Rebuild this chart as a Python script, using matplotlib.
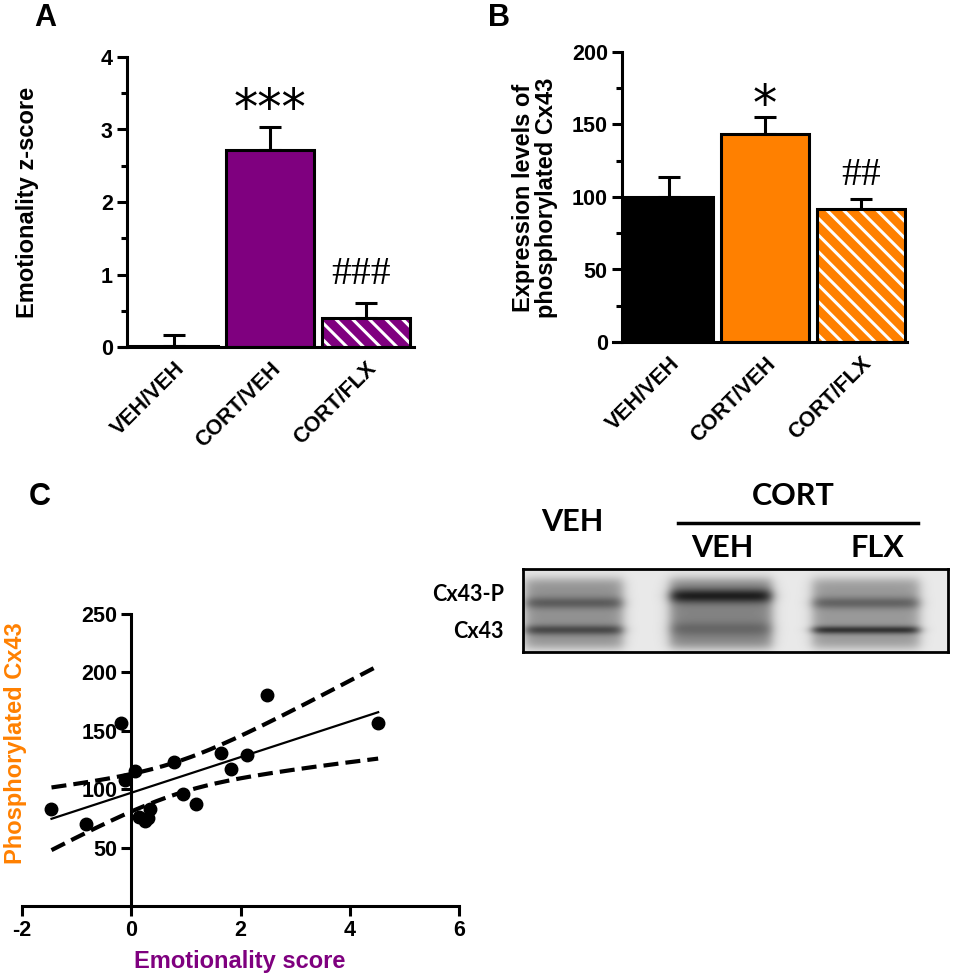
import numpy as np
import matplotlib
matplotlib.use("Agg")
import matplotlib.pyplot as plt
from matplotlib.ticker import MultipleLocator

# ---------------- data ----------------
groups = ["VEH/VEH", "CORT/VEH", "CORT/FLX"]
emo_means = [0.02, 2.72, 0.40]
emo_sem = [0.15, 0.31, 0.21]
pcx_means = [100, 143.5, 91.5]
pcx_sem = [14, 11.5, 7]

emo_x = [-1.46, -0.83, -0.18, -0.12, 0.06, 0.14, 0.25, 0.31, 0.34, 0.78,
         0.95, 1.19, 1.65, 1.83, 2.11, 2.48, 4.52]
pcx_y = [82.8, 70.5, 156.7, 108, 116, 76, 73, 75, 83, 123,
         96, 87, 131, 117, 129, 181, 157]
t_crit = 2.131  # t(0.975, df=15)

# western blot: lane centers / widths (px in blot), band darkness
lane_labels = ["VEH", "VEH", "FLX"]
lane_center = [51, 198, 343]
lane_width = [98, 102, 107]
lane_smear = [0.36, 0.42, 0.33]
upper_pos = [34, 27, 34]
upper_dark = [0.22, 0.42, 0.22]
upper_sig = [6.0, 7.0, 6.0]
lower_pos = [61, 60, 61]
lower_dark = [0.30, 0.12, 0.42]
lower_sig = [5.0, 7.0, 4.0]

PURPLE = "#7f007f"
ORANGE = "#ff8000"

plt.rcParams["font.family"] = ["Liberation Sans", "DejaVu Sans"]
plt.rcParams["font.weight"] = "bold"
plt.rcParams["hatch.linewidth"] = 2.2
plt.rcParams["axes.unicode_minus"] = False

W, H = 960, 980
fig = plt.figure(figsize=(9.6, 9.8), dpi=100)


def box(x0, y0, x1, y1):
    return [x0 / W, 1 - y1 / H, (x1 - x0) / W, (y1 - y0) / H]


def fx(x):
    return x / W


def fy(y):
    return 1 - y / H


def bar_panel(ax, means, sems, colors, hatched, ylim, major, minor):
    x = np.arange(len(means))
    for i in range(len(means)):
        if hatched[i]:
            ax.bar(x[i], means[i], width=0.92, color=colors[i], edgecolor="white",
                   hatch="\\\\", linewidth=0, zorder=2)
            ax.bar(x[i], means[i], width=0.92, fill=False, edgecolor="black",
                   linewidth=2.2, zorder=3)
        else:
            ax.bar(x[i], means[i], width=0.92, color=colors[i], edgecolor="black",
                   linewidth=2.2, zorder=2)
    ax.errorbar(x, means, yerr=[np.zeros(len(sems)), sems], fmt="none",
                ecolor="black", elinewidth=2.2, capsize=8, capthick=2.2, zorder=1)
    ax.set_ylim(*ylim)
    for s in ["top", "right"]:
        ax.spines[s].set_visible(False)
    ax.spines["left"].set_position(("data", -0.49))
    for s in ["left", "bottom"]:
        ax.spines[s].set_linewidth(2.2)
    ax.yaxis.set_major_locator(MultipleLocator(major))
    ax.yaxis.set_minor_locator(MultipleLocator(minor))
    ax.tick_params(axis="y", which="major", length=7, width=2.2, labelsize=15.5, pad=3)
    ax.tick_params(axis="y", which="minor", length=4, width=2.2)
    ax.tick_params(axis="x", length=0, pad=8)
    ax.set_xticks(x)
    ax.set_xticklabels(groups, rotation=45, ha="right", rotation_mode="anchor",
                       fontsize=15.5, fontweight="bold")


# ---------------- Panel A ----------------
axA = fig.add_axes(box(120, 57, 414, 347))
axA.set_xlim(-0.56, 2.5)
bar_panel(axA, emo_means, emo_sem, ["black", PURPLE, PURPLE], [False, False, True],
          (0, 4), 1, 0.5)
axA.text(1, 3.27, "***", ha="center", va="center", fontsize=35,
         family="DejaVu Sans", fontweight="normal")
axA.text(1.95, 1.0, "###", ha="center", va="center", fontsize=28.5,
         family="Liberation Serif", fontweight="normal")
fig.text(fx(28), fy(202), "Emotionality z-score", rotation=90, ha="center",
         va="center", fontsize=17, fontweight="bold")
fig.text(fx(45), fy(18), "A", ha="center", va="center", fontsize=22, fontweight="bold")

# ---------------- Panel B ----------------
axB = fig.add_axes(box(613, 52, 907, 342))
axB.set_xlim(-0.58, 2.48)
bar_panel(axB, pcx_means, pcx_sem, ["black", ORANGE, ORANGE], [False, False, True],
          (0, 200), 50, 25)
axB.text(1, 163, "*", ha="center", va="center", fontsize=35,
         family="DejaVu Sans", fontweight="normal")
axB.text(2.0, 115, "##", ha="center", va="center", fontsize=28.5,
         family="Liberation Serif", fontweight="normal")
fig.text(fx(535), fy(198), "Expression levels of\nphosphorylated Cx43", rotation=90,
         ha="center", va="center", fontsize=17, fontweight="bold", linespacing=1.05)
fig.text(fx(499), fy(18), "B", ha="center", va="center", fontsize=22, fontweight="bold")

# ---------------- Panel C ----------------
axC = fig.add_axes(box(22, 614, 459, 906))
ex = np.array(emo_x)
py = np.array(pcx_y)
n = len(ex)
slope, inter = np.polyfit(ex, py, 1)
resid = py - (slope * ex + inter)
s = np.sqrt(np.sum(resid ** 2) / (n - 2))
sxx = np.sum((ex - ex.mean()) ** 2)
xs = np.linspace(ex.min(), ex.max(), 200)
fit = slope * xs + inter
half = t_crit * s * np.sqrt(1 / n + (xs - ex.mean()) ** 2 / sxx)
axC.plot(xs, fit, color="black", lw=1.6, zorder=2)
axC.plot(xs, fit + half, color="black", lw=3, ls=(0, (3.6, 1.7)), zorder=2)
axC.plot(xs, fit - half, color="black", lw=3, ls=(0, (3.6, 1.7)), zorder=2)
axC.plot(ex, py, "o", color="black", ms=9, zorder=3)
axC.set_xlim(-2, 6)
axC.set_ylim(0, 250)
for sname in ["top", "right"]:
    axC.spines[sname].set_visible(False)
axC.spines["left"].set_position(("data", 0))
for sname in ["left", "bottom"]:
    axC.spines[sname].set_linewidth(2.2)
axC.set_xticks([-2, 0, 2, 4, 6])
axC.set_yticks([50, 100, 150, 200, 250])
axC.tick_params(length=7, width=2.2, labelsize=15.5, pad=3)
fig.text(fx(240), fy(961), "Emotionality score", ha="center", va="center",
         fontsize=17, fontweight="bold", color=PURPLE)
fig.text(fx(16), fy(743), "Phosphorylated Cx43", rotation=90, ha="center",
         va="center", fontsize=17, fontweight="bold", color=ORANGE)
fig.text(fx(40), fy(497), "C", ha="center", va="center", fontsize=22, fontweight="bold")

# ---------------- Western blot ----------------
bx0, by0, bx1, by1 = 523, 569, 948, 652
axW = fig.add_axes(box(bx0, by0, bx1, by1))
bw, bh = bx1 - bx0, by1 - by0
xx = np.arange(bw)[None, :] + 0.5
yy = np.arange(bh)[:, None] + 0.5
dark = np.full((bh, bw), 0.09)
for c, w, sm, up, ud, us, lp, ld, ls_ in zip(lane_center, lane_width, lane_smear,
                                             upper_pos, upper_dark, upper_sig,
                                             lower_pos, lower_dark, lower_sig):
    hprof = 0.5 * (np.tanh((xx - (c - w / 2)) / 7) - np.tanh((xx - (c + w / 2)) / 7))
    vprof = sm * (0.5 * (np.tanh((yy - 10) / 6) - np.tanh((yy - (bh - 4)) / 6)))
    vprof = vprof + ud * np.exp(-((yy - up) / us) ** 2) + ld * np.exp(-((yy - lp) / ls_) ** 2)
    dark = dark + hprof * vprof
dark = np.clip(dark, 0, 1)
img = 1 - 0.95 * dark
axW.imshow(img, cmap="gray", vmin=0, vmax=1, extent=(0, bw, bh, 0),
           aspect="auto", interpolation="bilinear")
axW.set_xticks([])
axW.set_yticks([])
for sname in axW.spines:
    axW.spines[sname].set_linewidth(2)

blot_font = ["Lato", "DejaVu Sans"]
fig.text(fx(572), fy(522), "VEH", ha="center", va="center", fontsize=22,
         fontweight="bold", family=blot_font)
fig.text(fx(793), fy(496), "CORT", ha="center", va="center", fontsize=22,
         fontweight="bold", family=blot_font)
fig.add_artist(plt.Line2D([fx(678), fx(918)], [fy(523), fy(523)], color="black", lw=2.5))
fig.text(fx(722), fy(548), lane_labels[1], ha="center", va="center", fontsize=22,
         fontweight="bold", family=blot_font)
fig.text(fx(877), fy(548), lane_labels[2], ha="center", va="center", fontsize=22,
         fontweight="bold", family=blot_font)
fig.text(fx(504), fy(594), "Cx43-P", ha="right", va="center", fontsize=15.5,
         fontweight="bold", family=blot_font)
fig.text(fx(504), fy(631), "Cx43", ha="right", va="center", fontsize=15.5,
         fontweight="bold", family=blot_font)

fig.savefig("out.png", dpi=100, facecolor="white")
